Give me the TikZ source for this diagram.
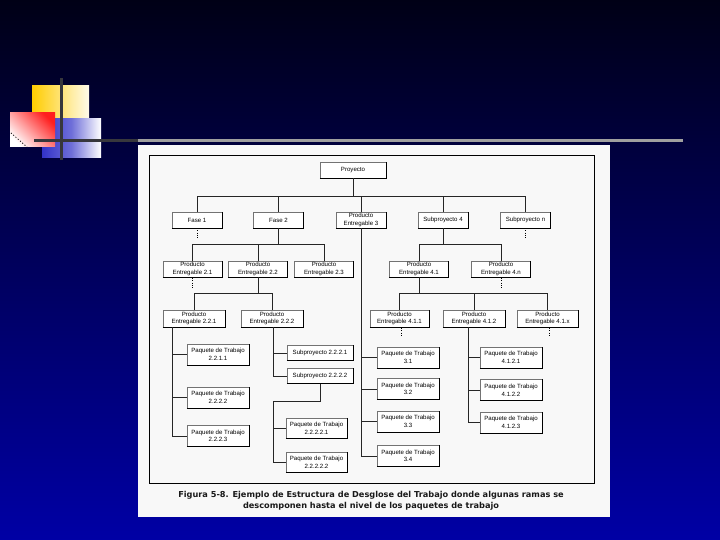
\documentclass[tikz,border=0pt]{standalone}
\usepackage{fontspec}
\setmainfont{Liberation Sans}
\newfontfamily\capfont{DejaVu Sans}
\definecolor{bgtop}{RGB}{0,0,22}
\definecolor{bgmid}{RGB}{0,0,75}
\definecolor{bgbot}{RGB}{0,0,165}
\definecolor{gold}{RGB}{255,204,0}
\definecolor{sqblue}{RGB}{50,50,200}
\definecolor{sqred}{RGB}{255,30,30}
\definecolor{barcol}{RGB}{55,55,60}
\definecolor{panel}{RGB}{248,248,248}
\begin{document}
\begin{tikzpicture}[x=1pt,y=-1pt,
  wbs/.style={draw=black!55, line width=0.4pt, fill=white, align=center,
    inner sep=0pt, minimum height=16pt,
    font=\fontsize{6.1}{7.6}\selectfont},
  wp/.style={wbs, minimum width=62pt, minimum height=21pt},
  conn/.style={draw=black!85, line width=0.6pt},
  dotline/.style={draw=black, line width=0.6pt, dash pattern=on 1pt off 1.2pt},
  shadowline/.style={draw=black, line width=1.1pt}]
\useasboundingbox (0,0) rectangle (720,540);
% background
\shade[top color=bgtop, middle color=bgmid, bottom color=bgbot] (0,0) rectangle (720,540);
% decoration
\shade[left color=gold, right color=gold!8!white] (32,86) rectangle (89,145);
\shade[left color=sqblue, right color=white, middle color=sqblue!70!white] (42,119) rectangle (101,158);
\shade[top color=sqred, bottom color=white, shading angle=-45] (10,113) rectangle (55,147);
\draw[black, line width=0.8pt, dash pattern=on 1pt off 2pt] (11,133) -- (27,147);
\draw[barcol, line width=3pt] (61,78) -- (61,160);
\draw[barcol, line width=3pt] (34,141) -- (138,141);
\draw[gray!75, line width=3pt] (138,141) -- (683,141);
% panel
\fill[panel] (138,145) rectangle (610,517);
\draw[black, line width=0.6pt] (149,155) rectangle (594,483);

% level 0
\node[wbs, minimum width=66pt] (proj) at (353,170) {Proyecto};
% level 1
\node[wbs, minimum width=50pt] (f1) at (197,220) {Fase 1};
\node[wbs, minimum width=50pt] (f2) at (278.5,220) {Fase 2};
\node[wbs, minimum width=50pt] (pe3) at (361,220) {Producto\\Entregable 3};
\node[wbs, minimum width=50pt] (s4) at (443,220) {Subproyecto 4};
\node[wbs, minimum width=50pt] (sn) at (525.5,220) {Subproyecto n};
% level 2
\node[wbs, minimum width=59pt] (pe21) at (192.5,269) {Producto\\Entregable 2.1};
\node[wbs, minimum width=59pt] (pe22) at (258,269) {Producto\\Entregable 2.2};
\node[wbs, minimum width=59pt] (pe23) at (324,269) {Producto\\Entregable 2.3};
\node[wbs, minimum width=59pt] (pe41) at (419,269) {Producto\\Entregable 4.1};
\node[wbs, minimum width=59pt] (pe4n) at (501,269) {Producto\\Entregable 4.n};
% level 3
\node[wbs, minimum width=62pt, minimum height=17pt] (pe221) at (194,318.5) {Producto\\Entregable 2.2.1};
\node[wbs, minimum width=62pt, minimum height=17pt] (pe222) at (272,318.5) {Producto\\Entregable 2.2.2};
\node[wbs, minimum width=59pt, minimum height=17pt] (pe411) at (399.5,318.5) {Producto\\Entregable 4.1.1};
\node[wbs, minimum width=62pt, minimum height=17pt] (pe412) at (474,318.5) {Producto\\Entregable 4.1.2};
\node[wbs, minimum width=61pt, minimum height=17pt] (pe41x) at (547.5,318.5) {Producto\\Entregable 4.1.x};
% work packages 2.2.1.x
\node[wp] (wp2211) at (218,354.5) {Paquete de Trabajo\\2.2.1.1};
\node[wp] (wp2212) at (218,397.5) {Paquete de Trabajo\\2.2.2.2};
\node[wp] (wp2213) at (218,436) {Paquete de Trabajo\\2.2.2.3};
% subprojects
\node[wbs, minimum width=66pt, minimum height=15pt] (sub2221) at (320,353) {Subproyecto 2.2.2.1};
\node[wbs, minimum width=66pt, minimum height=15pt] (sub2222) at (320,376) {Subproyecto 2.2.2.2};
\node[wp, minimum width=61pt, minimum height=20pt] (wp22221) at (316.5,428) {Paquete de Trabajo\\2.2.2.2.1};
\node[wp, minimum width=61pt, minimum height=20pt] (wp22222) at (316.5,462) {Paquete de Trabajo\\2.2.2.2.2};
% work packages 3.x
\node[wp] (wp31) at (408,357.5) {Paquete de Trabajo\\3.1};
\node[wp] (wp32) at (408,389) {Paquete de Trabajo\\3.2};
\node[wp] (wp33) at (408,421.5) {Paquete de Trabajo\\3.3};
\node[wp] (wp34) at (408,456) {Paquete de Trabajo\\3.4};
% work packages 4.1.2.x
\node[wp] (wp4121) at (511,357.5) {Paquete de Trabajo\\4.1.2.1};
\node[wp] (wp4122) at (511,390) {Paquete de Trabajo\\4.1.2.2};
\node[wp] (wp4123) at (511,422.5) {Paquete de Trabajo\\4.1.2.3};

% shadows
\foreach \n in {proj,f1,f2,pe3,s4,sn,pe21,pe22,pe23,pe41,pe4n,pe221,pe222,pe411,pe412,pe41x,
  wp2211,wp2212,wp2213,sub2221,sub2222,wp22221,wp22222,wp31,wp32,wp33,wp34,wp4121,wp4122,wp4123}
  \draw[shadowline] (\n.south west) -- (\n.south east) -- (\n.north east);

% buses
\coordinate (bus0) at (0,196);
\coordinate (bus1) at (0,244);
\coordinate (bus2) at (0,293);
\coordinate (bus3) at (0,401);
\coordinate (sp1) at (172,0);
\coordinate (sp3) at (273,0);
\coordinate (sp4) at (468,0);

\draw[conn] (proj.south) -- (proj.south |- bus0);
\draw[conn] (f1.north) -- (f1.north |- bus0) -- (sn.north |- bus0) -- (sn.north);
\foreach \n in {f2,pe3,s4} \draw[conn] (\n.north) -- (\n.north |- bus0);

\draw[conn] (f2.south) -- (f2.south |- bus1);
\draw[conn] (pe21.north) -- (pe21.north |- bus1) -- (pe23.north |- bus1) -- (pe23.north);
\draw[conn] (pe22.north) -- (pe22.north |- bus1);

\draw[conn] (s4.south) -- (s4.south |- bus1);
\draw[conn] (pe41.north) -- (pe41.north |- bus1) -- (pe4n.north |- bus1) -- (pe4n.north);

\draw[conn] (pe22.south) -- (pe22.south |- bus2);
\draw[conn] (pe221.north) -- (pe221.north |- bus2) -- (pe222.north |- bus2) -- (pe222.north);

\draw[conn] (pe41.south) -- (pe41.south |- bus2);
\draw[conn] (pe411.north) -- (pe411.north |- bus2) -- (pe41x.north |- bus2) -- (pe41x.north);
\draw[conn] (pe412.north) -- (pe412.north |- bus2);

% spine under 2.2.1
\draw[conn] (pe221.south -| sp1) -- (sp1 |- wp2213.west);
\foreach \n in {wp2211,wp2212,wp2213} \draw[conn] (sp1 |- \n.west) -- (\n.west);
% spine under 2.2.2
\draw[conn] (pe222.south -| sp3) -- (sp3 |- sub2222.west);
\foreach \n in {sub2221,sub2222} \draw[conn] (sp3 |- \n.west) -- (\n.west);
\draw[conn] (sub2222.south) -- (sub2222.south |- bus3) -- (sp3 |- bus3) -- (sp3 |- wp22222.west) -- (wp22222.west);
\draw[conn] (sp3 |- wp22221.west) -- (wp22221.west);
% spine under 3
\draw[conn] (pe3.south) -- (pe3.south |- wp34.west) -- (wp34.west);
\foreach \n in {wp31,wp32,wp33} \draw[conn] (pe3.south |- \n.west) -- (\n.west);
% spine under 4.1.2
\draw[conn] (pe412.south -| sp4) -- (sp4 |- wp4123.west);
\foreach \n in {wp4121,wp4122,wp4123} \draw[conn] (sp4 |- \n.west) -- (\n.west);

% dotted continuations
\foreach \n in {f1,sn} \draw[dotline] (\n.south) -- ++(0,10);
\foreach \n in {pe21,pe4n} \draw[dotline] ([yshift=-1pt]\n.south) -- ++(0,11);
\draw[dotline] ([xshift=1.5pt,yshift=-1pt]pe411.south) -- ++(0,8);
\draw[dotline] ([xshift=1.5pt,yshift=-1pt]pe41x.south) -- ++(0,8);

% caption
\node[font=\capfont\bfseries\fontsize{8.2}{11}\selectfont, align=center, text=black!90] (cap) at (371,500.5)
  {Figura 5-8. Ejemplo de Estructura de Desglose del Trabajo donde algunas ramas se\\
   descomponen hasta el nivel de los paquetes de trabajo};
\end{tikzpicture}
\end{document}
